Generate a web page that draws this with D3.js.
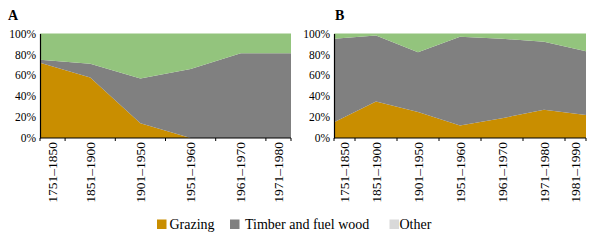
<!DOCTYPE html>
<html>
<head>
<meta charset="utf-8">
<script src="https://cdn.jsdelivr.net/npm/d3@7"></script>
<style>
  body { margin: 0; background: #fff; }
  svg, svg text { font-family: "Liberation Serif", "Times New Roman", Times, serif; }
</style>
</head>
<body>
<div id="chart"></div>
<script>
// data (percent shares)
var periodsA = ["1751–1850", "1851–1900", "1901–1950", "1951–1960", "1961–1970", "1971–1980"];
var grazingA = [72, 58, 14, 0, 0, 0];
var timberA = [3, 13, 43, 66, 81, 81];
var otherA = [25, 29, 43, 34, 19, 19];

var periodsB = ["1751–1850", "1851–1900", "1901–1950", "1951–1960", "1961–1970", "1971–1980", "1981–1990"];
var grazingB = [15, 35, 25, 12, 19, 27, 22];
var timberB = [80, 63, 57, 85, 76, 65, 61];
var otherB = [5, 2, 18, 3, 5, 8, 17];

var yTicks = [0, 20, 40, 60, 80, 100];
var seriesKeys = ["Grazing", "Timber and fuel wood", "Other"];
var areaColors = { "Grazing": "#c98e00", "Timber and fuel wood": "#808080", "Other": "#93c47d" };
var legendColors = { "Grazing": "#c98e00", "Timber and fuel wood": "#808080", "Other": "#d9d9d9" };

var svg = d3.select("#chart")
  .append("svg")
  .attr("width", 600)
  .attr("height", 243);

var plotTop = 33.5, plotBottom = 138;

function drawPanel(title, periods, grazing, timber, other, x0, x1, titleX) {
  var rows = periods.map(function (p, i) {
    return { period: p, "Grazing": grazing[i], "Timber and fuel wood": timber[i], "Other": other[i] };
  });

  var x = d3.scalePoint()
    .domain(periods)
    .range([x0, x1]);

  var y = d3.scaleLinear()
    .domain([0, 100])
    .range([plotBottom, plotTop]);

  var layers = d3.stack().keys(seriesKeys)(rows);

  var area = d3.area()
    .x(function (d) { return x(d.data.period); })
    .y0(function (d) { return y(d[0]); })
    .y1(function (d) { return y(d[1]); });

  var g = svg.append("g");

  g.selectAll("path.layer")
    .data(layers)
    .enter()
    .append("path")
    .attr("class", "layer")
    .attr("d", area)
    .attr("fill", function (d) { return areaColors[d.key]; });

  // y axis
  var yAxis = g.append("g")
    .attr("transform", "translate(" + x0 + ",0)")
    .call(d3.axisLeft(y).tickValues(yTicks).tickFormat(function (d) { return d + "%"; }).tickSize(0).tickPadding(4));
  yAxis.attr("font-family", null);
  yAxis.select(".domain").attr("stroke", "#000").attr("stroke-width", 1.2);
  yAxis.selectAll("text")
    .attr("font-size", "11.5px")
    .attr("fill", "#000");

  // x axis: ticks between categories, labels centred in each slot
  var pts = periods.map(function (p) { return x(p); });
  var bounds = [x0];
  for (var i = 0; i < pts.length - 1; i++) bounds.push((pts[i] + pts[i + 1]) / 2);
  bounds.push(x1);

  g.append("line")
    .attr("x1", x0).attr("x2", x1)
    .attr("y1", plotBottom).attr("y2", plotBottom)
    .attr("stroke", "#000").attr("stroke-width", 1.2);

  g.selectAll("line.tick")
    .data(bounds)
    .enter()
    .append("line")
    .attr("class", "tick")
    .attr("x1", function (d) { return d; })
    .attr("x2", function (d) { return d; })
    .attr("y1", plotBottom).attr("y2", plotBottom + 3)
    .attr("stroke", "#000");

  g.selectAll("text.xlab")
    .data(periods)
    .enter()
    .append("text")
    .attr("class", "xlab")
    .attr("transform", function (d, i) {
      var cx = (bounds[i] + bounds[i + 1]) / 2 + 4.5;
      return "translate(" + cx + "," + (plotBottom + 4) + ")rotate(-90)";
    })
    .attr("font-size", "13.5px")
    .style("text-anchor", "end")
    .text(function (d) { return d; });

  svg.append("text")
    .attr("x", titleX)
    .attr("y", 20)
    .attr("font-size", "14px")
    .attr("font-weight", "bold")
    .text(title);
}

drawPanel("A", periodsA, grazingA, timberA, otherA, 40, 291, 8);
drawPanel("B", periodsB, grazingB, timberB, otherB, 334, 586, 335);

// legend
var legendBoxX = [157, 230, 389.5];
var legendTextX = [169.5, 245, 399.5];
var items = svg.append("g").selectAll("g")
  .data(seriesKeys)
  .enter()
  .append("g");

items.append("rect")
  .attr("x", function (d, i) { return legendBoxX[i]; })
  .attr("y", 219.5)
  .attr("width", 9.5)
  .attr("height", 9.5)
  .attr("fill", function (d) { return legendColors[d]; });

items.append("text")
  .attr("x", function (d, i) { return legendTextX[i]; })
  .attr("y", 229)
  .attr("font-size", "14px")
  .text(function (d) { return d; });
</script>
</body>
</html>
